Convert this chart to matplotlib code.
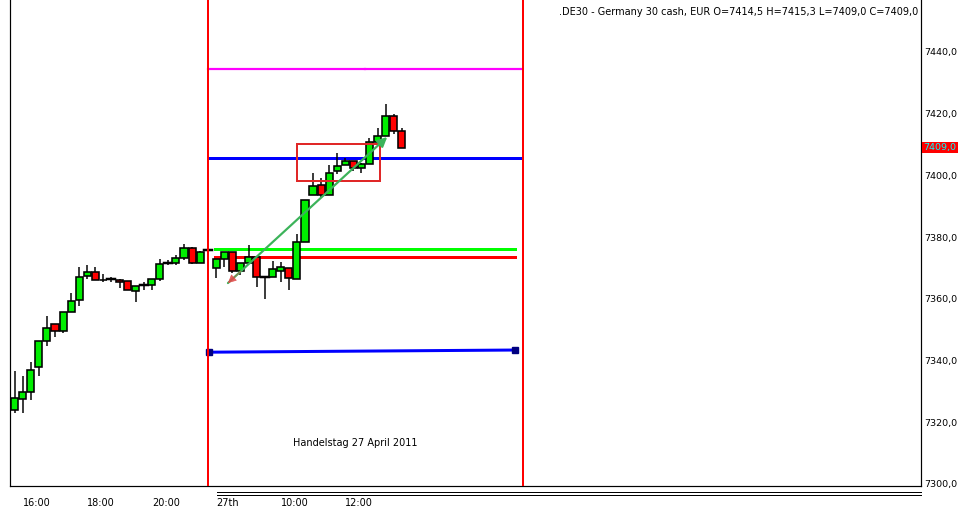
import matplotlib
matplotlib.use("Agg")
import matplotlib.pyplot as plt
from matplotlib.patches import Rectangle, FancyArrowPatch
from matplotlib.transforms import blended_transform_factory
from matplotlib.lines import Line2D

# ---- data (15-minute candles, 26/27 April 2011) ----
opens = [7324.0, 7327.4, 7329.7, 7338.0, 7346.3, 7351.7, 7349.6, 7355.8, 7359.6, 7367.4,
         7368.8, 7366.1, 7366.3, 7366.0, 7365.7, 7362.5, 7364.5, 7364.4, 7366.4, 7371.6,
         7371.6, 7373.1, 7376.4, 7371.5, 7375.8,
         7369.9, 7372.9, 7375.0, 7368.9, 7371.5, 7373.7, 7366.9, 7366.9, 7369.0, 7369.9,
         7366.3, 7378.3, 7393.6, 7396.9, 7393.6, 7401.4, 7403.4, 7404.5, 7402.3, 7403.6,
         7410.9, 7412.9, 7419.3, 7414.5]
highs = [7336.6, 7335.0, 7339.6, 7346.3, 7354.4, 7351.7, 7355.6, 7361.8, 7370.4, 7371.0,
         7370.4, 7368.0, 7367.2, 7366.3, 7365.7, 7364.2, 7365.6, 7366.3, 7372.9, 7372.6,
         7374.2, 7377.7, 7376.9, 7375.5, 7376.0,
         7372.9, 7375.0, 7375.0, 7371.5, 7377.4, 7373.7, 7367.0, 7372.2, 7372.0, 7369.9,
         7381.0, 7392.0, 7400.7, 7399.1, 7403.4, 7407.2, 7405.5, 7404.5, 7404.0, 7412.2,
         7415.3, 7423.0, 7419.9, 7415.3]
lows = [7323.0, 7323.1, 7327.2, 7335.0, 7344.8, 7347.7, 7348.8, 7355.8, 7357.7, 7366.3,
        7366.1, 7365.5, 7365.6, 7363.4, 7362.8, 7358.8, 7362.9, 7362.9, 7365.8, 7371.0,
        7371.0, 7372.5, 7371.2, 7371.5, 7375.5,
        7366.7, 7370.2, 7368.5, 7367.8, 7371.5, 7363.9, 7359.9, 7366.9, 7365.6, 7362.9,
        7366.3, 7378.3, 7393.6, 7393.0, 7393.6, 7400.4, 7403.4, 7401.4, 7400.9, 7403.6,
        7410.9, 7412.9, 7413.5, 7409.0]
closes = [7327.8, 7329.7, 7336.8, 7346.3, 7350.5, 7349.6, 7355.6, 7359.4, 7367.0, 7368.8,
          7366.1, 7366.2, 7366.3, 7365.5, 7362.8, 7364.2, 7364.5, 7366.3, 7371.4, 7371.6,
          7373.1, 7376.4, 7371.5, 7375.3, 7375.8,
          7372.9, 7375.0, 7368.9, 7371.5, 7373.7, 7366.9, 7366.9, 7369.6, 7370.2, 7366.7,
          7378.3, 7392.0, 7396.6, 7393.6, 7400.9, 7403.0, 7404.5, 7402.3, 7403.6, 7410.9,
          7412.9, 7419.3, 7414.5, 7409.0]

tick_pos = [1, 9, 17, 25, 33, 41]
tick_labels = ["16:00", "18:00", "20:00", "27th", "10:00", "12:00"]
y_ticks = [7300, 7320, 7340, 7360, 7380, 7400, 7420, 7440]

session_lines = [24, 63]               # red vertical lines (bar index)
magenta_level = (7434.3, 7434.6)
blue_level = 7405.6
green_level = 7376.0
red_level = 7373.6
navy_level = (7342.7, 7343.4)
box_x = (35.05, 45.3)
box_y = (7398.2, 7410.2)
arrow_start = (26.45, 7365.1)
arrow_end = (46.2, 7412.4)
last_price = 7409.0
title = ".DE30 - Germany 30 cash, EUR O=7414,5 H=7415,3 L=7409,0 C=7409,0"
note = "Handelstag 27 April 2011"

# ---- figure ----
W, H = 962, 514
fig = plt.figure(figsize=(W / 100, H / 100), dpi=100)
fig.patch.set_facecolor("white")
ax = fig.add_axes([10 / W, (H - 486) / H, 911 / W, 486 / H])
ax.set_xlim(-0.58, 112.4)
ax.set_ylim(7299.35, 7456.8)

px = 72 / 100  # points per pixel

ax.spines["top"].set_visible(False)
for s in ["left", "right", "bottom"]:
    ax.spines[s].set_linewidth(1.2 * px)
    ax.spines[s].set_color("black")

# candles
bw = 0.88
for i, (o, h, l, c) in enumerate(zip(opens, highs, lows, closes)):
    ax.plot([i, i], [l, h], color="black", lw=1.5 * px, zorder=3, solid_capstyle="butt")
    color = "#00ee00" if c >= o else "#ff0000"
    if abs(c - o) < 0.05:
        ax.plot([i - bw / 2 - 0.05, i + bw / 2 + 0.05], [o, o], color="black", lw=2.5 * px, zorder=4)
    else:
        ax.add_patch(Rectangle((i - bw / 2, min(o, c)), bw, abs(c - o),
                               facecolor=color, edgecolor="black", lw=1.6 * px, zorder=4))

# vertical session lines
for xv in session_lines:
    ax.axvline(xv, color="#ff0000", lw=2 * px, zorder=5)

# horizontal levels
ax.plot([23.95, 43.5], [magenta_level[0], magenta_level[0]], color="#ff00ff", lw=2.2 * px, zorder=2)
ax.plot([43.5, 62.95], [magenta_level[1], magenta_level[1]], color="#ff00ff", lw=2.2 * px, zorder=2)
ax.plot([24.0, 62.95], [blue_level, blue_level], color="#0000ff", lw=3 * px, zorder=2)
ax.plot([24.85, 62.0], [green_level, green_level], color="#00ff00", lw=3 * px, zorder=2)
ax.plot([24.85, 62.0], [red_level, red_level], color="#ff0000", lw=3 * px, zorder=2)
ax.plot([24.04, 62.0], list(navy_level), color="#0000ff", lw=3 * px, zorder=2)
ax.plot([24.04, 62.0], list(navy_level), linestyle="none", marker="s", ms=6 * px,
        color="#000080", zorder=3)

# rectangle
ax.add_patch(Rectangle((box_x[0], box_y[0]), box_x[1] - box_x[0], box_y[1] - box_y[0],
                       fill=False, edgecolor="#e02828", lw=2 * px, zorder=6))

# arrow
ax.add_patch(FancyArrowPatch(arrow_start, arrow_end, arrowstyle="-|>", mutation_scale=14,
                             color="#3cb35a", lw=2.2 * px, zorder=7, shrinkA=0, shrinkB=0))
dx = arrow_end[0] - arrow_start[0]
dy = arrow_end[1] - arrow_start[1]
tail = (arrow_start[0] + dx * 0.08, arrow_start[1] + dy * 0.08)
ax.add_patch(FancyArrowPatch(tail, arrow_start, arrowstyle="-|>", mutation_scale=13,
                             color="#e04848", lw=0.5, alpha=0.85, zorder=8, shrinkA=0, shrinkB=0))

# note text
ax.text(42.2, 7313.3, note, fontsize=7, ha="center", va="center", family="DejaVu Sans")

# title
ax.text(0.9965, 0.975, title, transform=ax.transAxes, fontsize=7, ha="right", va="center",
        family="DejaVu Sans")

# y axis on right
ax.yaxis.tick_right()
ax.set_yticks(y_ticks)
ax.set_yticklabels([f"{v:.1f}".replace(".", ",") for v in y_ticks])
ax.tick_params(axis="y", length=0, pad=2, labelsize=6.8)
for lbl in ax.get_yticklabels():
    lbl.set_family("DejaVu Sans")

# last price label
ax.text(1.0025, last_price, f"{last_price:.1f}".replace(".", ","),
        transform=blended_transform_factory(ax.transAxes, ax.transData),
        fontsize=6.8, color="#00ffff", ha="left", va="center",
        bbox=dict(boxstyle="square,pad=0.15", facecolor="#ff0000", edgecolor="none"))

# x axis
ax.set_xticks(tick_pos)
ax.set_xticklabels(tick_labels)
ax.tick_params(axis="x", length=0, pad=8.5, labelsize=7)
for lbl in ax.get_xticklabels():
    lbl.set_horizontalalignment("left")
    lbl.set_family("DejaVu Sans")

# double line under the second session
for yy in (-6 / 486, -9 / 486):
    ax.add_line(Line2D([(217 - 10) / 911, 1.0], [yy, yy], transform=ax.transAxes,
                       color="black", lw=1 * px, clip_on=False))

fig.savefig("out.png", dpi=100, facecolor="white")
